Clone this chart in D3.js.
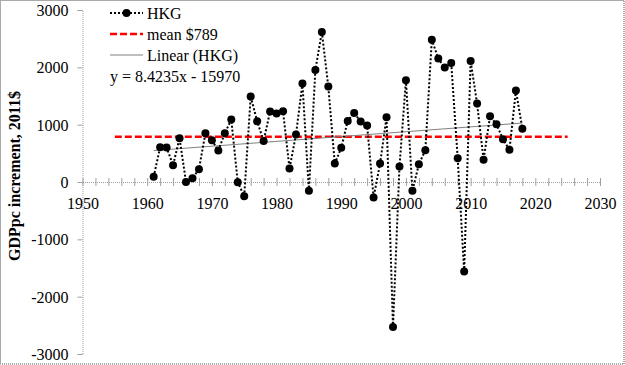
<!doctype html>
<html>
<head>
<meta charset="utf-8">
<script src="https://cdnjs.cloudflare.com/ajax/libs/d3/7.8.5/d3.min.js"></script>
<style>
  body { margin: 0; background: #fff; }
  svg { display: block; font-family: "Liberation Serif", "DejaVu Serif", serif; }
  .frame { fill: none; stroke: #555; stroke-dasharray: 1 1; }
  .axis path, .axis line { stroke: #a0a0a0; }
  .axis path { stroke-dasharray: 1 1; }
  .series { fill: none; stroke: #000; stroke-width: 2; stroke-dasharray: 2 2; }
  .dot { fill: #000; }
  .mean { stroke: #ff0000; stroke-width: 2.5; stroke-dasharray: 7 3; }
  .trend { stroke: #808080; stroke-width: 1; }
  .legend text { font-size: 16px; }
  .ytitle { font-size: 16px; font-weight: bold; }
</style>
</head>
<body>
<div id="chart"></div>
<script>
// data
var years = d3.range(1961, 2019);
var hkg = [90, 606, 600, 293, 763, 0, 66, 223, 850, 728,
           549, 850, 1089, -3, -247, 1490, 1059, 717, 1228, 1193,
           1233, 235, 827, 1716, -154, 1955, 2617, 1664, 322, 596,
           1066, 1205, 1054, 984, -270, 322, 1129, -2530, 270, 1774,
           -154, 310, 554, 2483, 2152, 1995, 2077, 415, -1559, 2111,
           1368, 387, 1146, 1007, 746, 561, 1594, 927];
var meanValue = 789;
var meanSpan = [1955, 2025];
var trendSlope = 8.4235, trendIntercept = -15970;
var xTicks = [1950, 1960, 1970, 1980, 1990, 2000, 2010, 2020, 2030];
var yTicks = [-3000, -2000, -1000, 0, 1000, 2000, 3000];
var legendLabels = ["HKG", "mean $789", "Linear (HKG)"];
var equationLabel = "y = 8.4235x - 15970";
var yTitle = "GDPpc increment, 2011$";

var W = 625, H = 365;
var svg = d3.select("#chart").append("svg")
    .attr("width", W).attr("height", H);

svg.append("rect").attr("class", "frame")
    .attr("x", 0.5).attr("y", 0.5).attr("width", W - 1.5).attr("height", H - 1.5);

var x = d3.scaleLinear().domain([1950, 2030]).range([82.5, 600]);
var y = d3.scaleLinear().domain([-3000, 3000]).range([354, 10]);
var plain = function(d) { return String(d); };

// y axis
var yAxis = svg.append("g").attr("class", "axis")
    .attr("transform", "translate(" + x(1950) + ",0)")
    .call(d3.axisLeft(y).tickValues(yTicks).tickSize(5).tickPadding(9).tickFormat(plain));
yAxis.selectAll("text").attr("dy", "0.35em")
    .style("font-family", "'Liberation Serif', serif").style("font-size", "16px");

// x axis minor ticks (every 2 years), crossing the zero line
var xMinor = svg.append("g").attr("class", "axis")
    .attr("transform", "translate(0," + y(0) + ")")
    .call(d3.axisBottom(x).tickValues(d3.range(1950, 2031, 2)).tickSize(4).tickSizeOuter(0).tickFormat(""));
xMinor.selectAll(".tick line").attr("y1", -4);

// x axis labels
var xMajor = svg.append("g").attr("class", "axis")
    .attr("transform", "translate(0," + y(0) + ")")
    .call(d3.axisBottom(x).tickValues(xTicks).tickSize(0).tickPadding(16).tickFormat(plain));
xMajor.selectAll("text")
    .style("font-family", "'Liberation Serif', serif").style("font-size", "16px");
xMajor.select(".domain").remove();

// mean line
svg.append("line").attr("class", "mean")
    .attr("x1", x(meanSpan[0])).attr("x2", x(meanSpan[1]))
    .attr("y1", y(meanValue)).attr("y2", y(meanValue));

// trend line
var t0 = years[0], t1 = years[years.length - 1];
svg.append("line").attr("class", "trend")
    .attr("x1", x(t0)).attr("y1", y(trendSlope * t0 + trendIntercept))
    .attr("x2", x(t1)).attr("y2", y(trendSlope * t1 + trendIntercept));

// series
var pts = years.map(function(yr, i) { return [yr, hkg[i]]; });
svg.append("path").attr("class", "series")
    .attr("d", d3.line().x(function(d) { return x(d[0]); }).y(function(d) { return y(d[1]); })(pts));
svg.selectAll("circle.dot").data(pts).enter().append("circle")
    .attr("class", "dot")
    .attr("cx", function(d) { return x(d[0]); })
    .attr("cy", function(d) { return y(d[1]); })
    .attr("r", 4);

// legend
var lg = svg.append("g").attr("class", "legend");
var lx = 110, lw = 33, rows = [13, 34, 55];
lg.append("line").attr("class", "series").attr("x1", lx).attr("x2", lx + lw).attr("y1", rows[0]).attr("y2", rows[0]);
lg.append("circle").attr("class", "dot").attr("cx", lx + lw / 2).attr("cy", rows[0]).attr("r", 4);
lg.append("line").attr("class", "mean").attr("x1", lx).attr("x2", lx + lw).attr("y1", rows[1]).attr("y2", rows[1]);
lg.append("line").attr("class", "trend").attr("x1", lx).attr("x2", lx + lw).attr("y1", rows[2]).attr("y2", rows[2]);
lg.selectAll("text.lab").data(legendLabels).enter().append("text")
    .attr("class", "lab")
    .attr("x", lx + lw + 4)
    .attr("y", function(d, i) { return rows[i]; })
    .attr("dy", "0.35em")
    .text(function(d) { return d; });
lg.append("text").attr("x", lx).attr("y", 76).attr("dy", "0.35em").text(equationLabel);

// y title
svg.append("text").attr("class", "ytitle")
    .attr("transform", "translate(20,176) rotate(-90)")
    .attr("text-anchor", "middle")
    .text(yTitle);
</script>
</body>
</html>
